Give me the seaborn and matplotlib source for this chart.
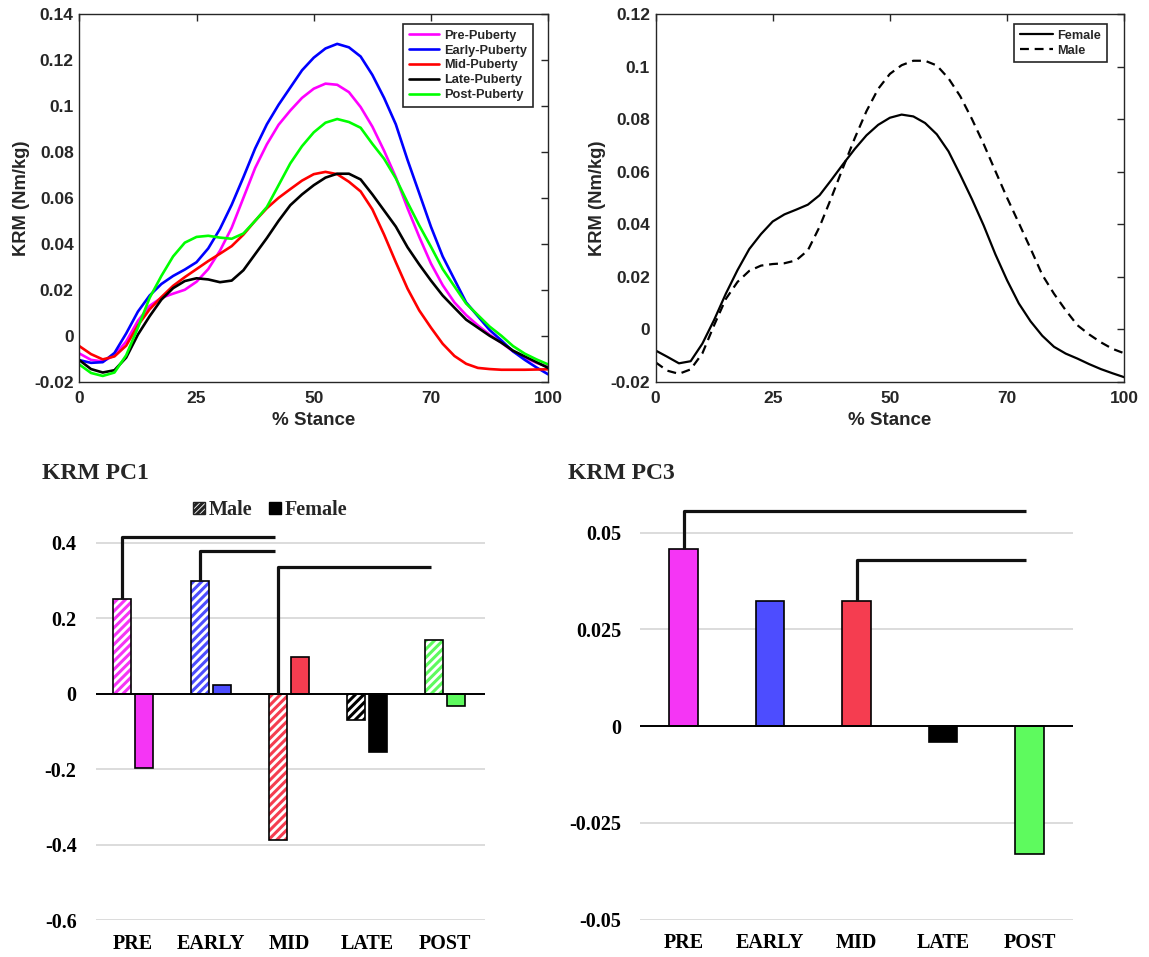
import numpy as np
import pandas as pd
import matplotlib
matplotlib.use("Agg")
import matplotlib.pyplot as plt
import seaborn as sns
from matplotlib.patches import Patch, Rectangle

# ---------------- data ----------------
stance = [0, 2.5, 5, 7.5, 10, 12.5, 15, 17.5, 20, 22.5, 25, 27.5, 30, 32.5, 35, 37.5,
          40, 42.5, 45, 47.5, 50, 52.5, 55, 57.5, 60, 62.5, 65, 67.5, 70, 72.5, 75,
          77.5, 80, 82.5, 85, 87.5, 90, 92.5, 95, 97.5, 100]

pre_puberty = [-0.0077, -0.0105, -0.0112, -0.0085, -0.0025, 0.0065, 0.013, 0.0165, 0.0183,
               0.020, 0.0235, 0.029, 0.037, 0.047, 0.060, 0.073, 0.0833, 0.0918, 0.098,
               0.1035, 0.1075, 0.1097, 0.1092, 0.106, 0.0995, 0.091, 0.0805, 0.069, 0.0555,
               0.043, 0.0314, 0.022, 0.0145, 0.009, 0.0045, 0.0005, -0.003, -0.0068,
               -0.0095, -0.0118, -0.0135]
early_puberty = [-0.0106, -0.0118, -0.0115, -0.0075, 0.001, 0.0105, 0.0175, 0.0225, 0.026,
                 0.0288, 0.032, 0.038, 0.0465, 0.057, 0.069, 0.0815, 0.092, 0.1005, 0.108,
                 0.1155, 0.121, 0.125, 0.127, 0.1255, 0.1215, 0.1135, 0.1035, 0.092, 0.0765,
                 0.062, 0.0474, 0.0345, 0.0245, 0.0145, 0.0085, 0.0025, -0.002, -0.0068,
                 -0.0105, -0.0138, -0.0168]
mid_puberty = [-0.0045, -0.0080, -0.0103, -0.0090, -0.0043, 0.0045, 0.0115, 0.0168, 0.0217,
               0.0255, 0.029, 0.0325, 0.0357, 0.039, 0.044, 0.050, 0.0555, 0.060, 0.0638,
               0.0675, 0.0703, 0.0713, 0.0703, 0.067, 0.0628, 0.055, 0.044, 0.032, 0.0205,
               0.011, 0.0035, -0.0035, -0.0088, -0.0122, -0.014, -0.0145, -0.0148, -0.0148,
               -0.0148, -0.0147, -0.0146]
late_puberty = [-0.0106, -0.0145, -0.016, -0.0150, -0.0095, 0.0005, 0.0085, 0.0157, 0.0207,
                0.0238, 0.025, 0.0245, 0.0233, 0.024, 0.0285, 0.0355, 0.0425, 0.050, 0.0568,
                0.0615, 0.0655, 0.0688, 0.0705, 0.0705, 0.068, 0.0615, 0.0545, 0.0475, 0.0385,
                0.031, 0.024, 0.0175, 0.0122, 0.007, 0.0035, 0.0, -0.003, -0.0065, -0.009,
                -0.0115, -0.014]
post_puberty = [-0.0125, -0.0162, -0.0175, -0.016, -0.0085, 0.0035, 0.0165, 0.026, 0.0345,
                0.0405, 0.043, 0.0435, 0.0427, 0.0422, 0.0445, 0.050, 0.056, 0.0655, 0.075,
                0.0825, 0.0885, 0.0927, 0.0943, 0.093, 0.0905, 0.0835, 0.077, 0.0685, 0.058,
                0.048, 0.0387, 0.029, 0.0215, 0.014, 0.009, 0.004, 0.0, -0.0045, -0.0078,
                -0.0103, -0.0125]

female_krm = [-0.0081, -0.0105, -0.0130, -0.0122, -0.0055, 0.0035, 0.0135, 0.0225, 0.0305,
              0.0362, 0.041, 0.0437, 0.0455, 0.0474, 0.051, 0.0568, 0.0628, 0.0686, 0.0738,
              0.0778, 0.0805, 0.0817, 0.0810, 0.0785, 0.0742, 0.0677, 0.0588, 0.0495, 0.0395,
              0.0285, 0.0186, 0.0098, 0.0030, -0.0025, -0.0067, -0.0093, -0.0112, -0.0133,
              -0.0152, -0.0168, -0.0183]
male_krm = [-0.0126, -0.0158, -0.0170, -0.0153, -0.0092, 0.0015, 0.0115, 0.018, 0.0222,
            0.0242, 0.0248, 0.0251, 0.0262, 0.030, 0.039, 0.050, 0.0615, 0.0727, 0.083,
            0.0915, 0.0972, 0.1005, 0.1022, 0.1022, 0.1004, 0.0955, 0.0887, 0.080, 0.0705,
            0.0602, 0.050, 0.0404, 0.0307, 0.0207, 0.0135, 0.0072, 0.0015, -0.0020, -0.0050,
            -0.0075, -0.0092]

group_names = ["Pre-Puberty", "Early-Puberty", "Mid-Puberty", "Late-Puberty", "Post-Puberty"]
line_colors = ["#FF00FF", "#0000FF", "#FF0000", "#000000", "#00FF00"]
sex_names = ["Female", "Male"]

xtick_pos = [0, 25, 50, 75, 100]
xtick_labels = ["0", "25", "50", "70", "100"]
left_yticks = [-0.02, 0, 0.02, 0.04, 0.06, 0.08, 0.10, 0.12, 0.14]
left_yticklabels = ["-0.02", "0", "0.02", "0.04", "0.06", "0.08", "0.1", "0.12", "0.14"]
right_yticks = [-0.02, 0, 0.02, 0.04, 0.06, 0.08, 0.10, 0.12]
right_yticklabels = ["-0.02", "0", "0.02", "0.04", "0.06", "0.08", "0.1", "0.12"]

bar_groups = ["PRE", "EARLY", "MID", "LATE", "POST"]
bar_colors = ["#F535F5", "#4D4DFF", "#F53D50", "#000000", "#5EFA5E"]
pc1_male = [0.250, 0.299, -0.389, -0.071, 0.142]
pc1_female = [-0.198, 0.022, 0.097, -0.155, -0.034]
pc1_ticks = [-0.6, -0.4, -0.2, 0, 0.2, 0.4]
pc1_ticklabels = ["-0.6", "-0.4", "-0.2", "0", "0.2", "0.4"]
pc1_brackets = [(0, 2, 0.414), (1, 2, 0.377), (2, 4, 0.335)]  # male bar i -> male bar j, height

pc3_values = [0.0458, 0.0324, 0.0324, -0.0041, -0.0331]
pc3_ticks = [-0.05, -0.025, 0, 0.025, 0.05]
pc3_ticklabels = ["-0.05", "-0.025", "0", "0.025", "0.05"]
pc3_brackets = [(0, 4, 0.0555), (2, 4, 0.0428)]

# ---------------- style ----------------
sns.set_style("white")
plt.rcParams["font.family"] = ["Liberation Sans", "DejaVu Sans"]
plt.rcParams["font.weight"] = "bold"
plt.rcParams["hatch.linewidth"] = 2.2
DARK = "#262626"
SERIF = "Liberation Serif"

W, H = 1149, 957
fig = plt.figure(figsize=(W / 100, H / 100), dpi=100)
fig.patch.set_facecolor("white")


def rect(l, r, t, b):
    return [l / W, 1 - b / H, (r - l) / W, (b - t) / H]


# ---------------- top-left ----------------
ax1 = fig.add_axes(rect(79.3, 548.2, 14, 381.7))
df_groups = pd.DataFrame({
    "stance": stance * 5,
    "krm": pre_puberty + early_puberty + mid_puberty + late_puberty + post_puberty,
    "group": sum([[g] * len(stance) for g in group_names], []),
})
sns.lineplot(data=df_groups, x="stance", y="krm", hue="group", hue_order=group_names,
             palette=line_colors, linewidth=1.9, ax=ax1, legend=False)
for ln in ax1.get_lines():
    ln.set_solid_joinstyle("round")

# ---------------- top-right ----------------
ax2 = fig.add_axes(rect(655.5, 1124.3, 14, 381.7))
df_sex = pd.DataFrame({
    "stance": stance * 2,
    "krm": female_krm + male_krm,
    "sex": ["Female"] * len(stance) + ["Male"] * len(stance),
})
sns.lineplot(data=df_sex, x="stance", y="krm", style="sex", style_order=sex_names,
             dashes={"Female": "", "Male": (4, 2.6)}, color="black", linewidth=1.6,
             ax=ax2, legend=False)
for ln in ax2.get_lines():
    ln.set_solid_joinstyle("round")
    ln.set_dash_joinstyle("round")

for ax, yt, yl, ylim in [(ax1, left_yticks, left_yticklabels, (-0.02, 0.14)),
                         (ax2, right_yticks, right_yticklabels, (-0.02, 0.12))]:
    ax.set_xlim(0, 100)
    ax.set_ylim(*ylim)
    ax.set_xticks(xtick_pos)
    ax.set_xticklabels(xtick_labels)
    ax.set_yticks(yt)
    ax.set_yticklabels(yl)
    ax.tick_params(direction="in", top=True, right=True, length=5, width=1.0,
                   colors=DARK, labelsize=12.5)
    ax.tick_params(axis="x", pad=7)
    ax.tick_params(axis="y", pad=4)
    for lab in ax.get_xticklabels() + ax.get_yticklabels():
        lab.set_fontweight("bold")
    for s in ax.spines.values():
        s.set_visible(True)
        s.set_color(DARK)
        s.set_linewidth(1.0)
    ax.set_xlabel("% Stance", fontsize=13.5, fontweight="bold", color=DARK, labelpad=4)
    ax.set_ylabel("KRM (Nm/kg)", fontsize=13.2, fontweight="bold", color=DARK, labelpad=3)

leg1 = ax1.legend(ax1.get_lines()[:5], group_names, loc="upper right",
                  bbox_to_anchor=(1 - 15 / 468.9, 1 - 10 / 367.7), borderaxespad=0,
                  frameon=True, fancybox=False, framealpha=1, edgecolor=DARK,
                  prop={"size": 9.2, "weight": "bold"}, handlelength=2.4,
                  labelspacing=0.22, handletextpad=0.4, borderpad=0.45)
leg1.get_frame().set_linewidth(1.2)
leg2 = ax2.legend(ax2.get_lines()[:2], sex_names, loc="upper right",
                  bbox_to_anchor=(1 - 17.5 / 468.8, 1 - 10 / 367.7), borderaxespad=0,
                  frameon=True, fancybox=False, framealpha=1, edgecolor=DARK,
                  prop={"size": 9.2, "weight": "bold"}, handlelength=2.6,
                  labelspacing=0.22, handletextpad=0.3, borderpad=0.45)
leg2.get_frame().set_linewidth(1.2)


# ---------------- bar chart helpers ----------------
def style_bar_axes(ax, ticks, ticklabels, ypad):
    for s in ax.spines.values():
        s.set_visible(False)
    ax.set_yticks(ticks)
    ax.set_yticklabels(ticklabels, fontfamily=SERIF, fontweight="bold", fontsize=14.5)
    ax.set_xticks(range(len(bar_groups)))
    ax.set_xticklabels(bar_groups, fontfamily=SERIF, fontweight="bold", fontsize=14.5)
    ax.tick_params(length=0, colors="black")
    ax.tick_params(axis="y", pad=ypad)
    ax.tick_params(axis="x", pad=10)
    ax.yaxis.grid(True, color="#d9d9d9", linewidth=1.3)
    ax.xaxis.grid(False)
    ax.set_axisbelow(True)
    ax.axhline(0, color="black", linewidth=1.4, zorder=2.5)
    ax.set_xlabel("")
    ax.set_ylabel("")


# ---------------- bottom-left: PC1 ----------------
ax3 = fig.add_axes(rect(96, 485, 523.8, 920))
df_pc1 = pd.DataFrame({
    "group": bar_groups * 2,
    "sex": ["Male"] * 5 + ["Female"] * 5,
    "value": pc1_male + pc1_female,
})
sns.barplot(data=df_pc1, x="group", y="value", hue="sex", hue_order=["Male", "Female"],
            order=bar_groups, width=0.56, gap=0.16, errorbar=None, legend=False,
            saturation=1, ax=ax3)
male_bars = list(ax3.containers[0])
female_bars = list(ax3.containers[1])
for bar, col in zip(male_bars, bar_colors):
    bar.set_facecolor("white")
    bar.set_edgecolor(col)
    bar.set_hatch("////")
    bar.set_linewidth(0)
    ax3.add_patch(Rectangle((bar.get_x(), bar.get_y()), bar.get_width(), bar.get_height(),
                            fill=False, edgecolor="black", linewidth=1.2, zorder=3))
for bar, col in zip(female_bars, bar_colors):
    bar.set_facecolor(col)
    bar.set_edgecolor("black")
    bar.set_linewidth(1.2)
ax3.set_xlim(-0.474, 4.51)
ax3.set_ylim(-0.6, 0.45)
style_bar_axes(ax3, pc1_ticks, pc1_ticklabels, 14)

for i, j, h in pc1_brackets:
    bi, bj = male_bars[i], male_bars[j]
    x0 = bi.get_x() + bi.get_width() / 2
    x1 = bj.get_x() + bj.get_width() / 2 - 0.04
    y0 = max(bi.get_y() + bi.get_height(), bi.get_y())
    ax3.plot([x0, x0, x1], [y0, h, h], color="#111111", linewidth=2.3,
             solid_capstyle="butt", clip_on=False, zorder=4)

fig.text(42 / W, 1 - 474 / H, "KRM PC1", ha="left", va="center", fontsize=17,
         fontweight="bold", fontfamily=SERIF)
fig.legend(handles=[Patch(facecolor="white", edgecolor="#222222", hatch="//////", linewidth=1.0),
                    Patch(facecolor="black", edgecolor="black")],
           labels=["Male", "Female"], loc="center", bbox_to_anchor=(270 / W, 1 - 510 / H),
           ncol=2, frameon=False, handlelength=0.6, handleheight=0.6, handletextpad=0.2,
           columnspacing=0.8, prop={"family": SERIF, "weight": "bold", "size": 14.5})

# ---------------- bottom-right: PC3 ----------------
ax4 = fig.add_axes(rect(640, 1073, 493.8, 919.5))
df_pc3 = pd.DataFrame({"group": bar_groups, "value": pc3_values})
sns.barplot(data=df_pc3, x="group", y="value", hue="group", order=bar_groups,
            hue_order=bar_groups, palette=bar_colors, width=0.33, errorbar=None,
            legend=False, saturation=1, edgecolor="black", linewidth=1.2, ax=ax4)
ax4.set_xlim(-0.503, 4.50)
ax4.set_ylim(-0.05, 0.06)
style_bar_axes(ax4, pc3_ticks, pc3_ticklabels, 13.5)
pc3_bars = sorted(ax4.patches, key=lambda p: p.get_x())
for i, j, h in pc3_brackets:
    bi, bj = pc3_bars[i], pc3_bars[j]
    x0 = bi.get_x() + bi.get_width() / 2
    x1 = bj.get_x() + bj.get_width() / 2 - 0.04
    y0 = bi.get_y() + bi.get_height()
    ax4.plot([x0, x0, x1], [y0, h, h], color="#111111", linewidth=2.3,
             solid_capstyle="butt", clip_on=False, zorder=4)

fig.text(568 / W, 1 - 474 / H, "KRM PC3", ha="left", va="center", fontsize=17,
         fontweight="bold", fontfamily=SERIF)

fig.savefig("out.png", dpi=100, facecolor="white")
